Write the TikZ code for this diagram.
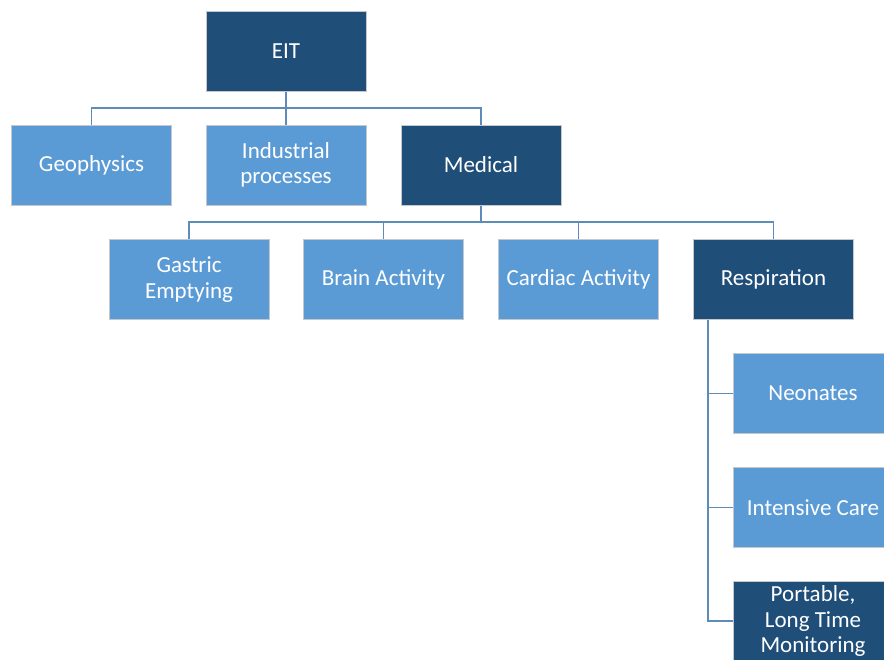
\documentclass[tikz,border=0pt]{standalone}
\usepackage{fontspec}
\setmainfont{Carlito}
\definecolor{darkbox}{HTML}{1F4E79}
\definecolor{lightbox}{HTML}{5B9BD5}
\definecolor{boxedge}{HTML}{C4C8CC}
\definecolor{linkcol}{HTML}{5E8CB8}
\begin{document}
\begin{tikzpicture}[x=1pt,y=-1pt,
  box/.style={draw=boxedge,line width=1pt,minimum width=160pt,minimum height=80pt,
    inner sep=2pt,align=center,text=white,
    font=\fontsize{23}{25.5}\selectfont},
  dark/.style={box,fill=darkbox},
  light/.style={box,fill=lightbox},
  link/.style={draw=linkcol,line width=1.8pt}]
\useasboundingbox (0,0) rectangle (884,659);

% links (drawn first, boxes on top)
\coordinate (b1) at (286,108);
\coordinate (b2) at (481,222);
\coordinate (r0) at (708,320);
\coordinate (rEnd) at (708,621);

% top level
\node[dark] (eit) at (286,51) {EIT};
% second level
\node[light] (geo) at (91.5,165) {Geophysics};
\node[light] (ind) at (286,165) {Industrial\\processes};
\node[dark]  (med) at (481,165) {Medical};
% third level
\node[light] (gas)   at (189,279.5)   {Gastric\\Emptying};
\node[light] (brain) at (383.5,279.5) {Brain Activity};
\node[light] (card)  at (578.5,279.5) {Cardiac Activity};
\node[dark]  (resp)  at (773.5,279.5) {Respiration};
% respiration branches
\node[light] (neo)  at (813,393.5) {Neonates};
\node[light] (int)  at (813,507.5) {Intensive Care};
\node[dark]  (port) at (813,621)   {Portable,\\Long Time\\Monitoring};

\draw[link] (eit.south) -- (b1);
\draw[link] (geo.north) |- (b1) -| (med.north);
\draw[link] (b1) -- (ind.north);

\draw[link] (med.south) -- (b2);
\draw[link] (gas.north) |- (b2) -| (resp.north);
\draw[link] (brain.north |- b2) -- (brain.north);
\draw[link] (card.north |- b2) -- (card.north);

\draw[link] (r0) |- (port.west);
\draw[link] (r0 |- neo.west) -- (neo.west);
\draw[link] (r0 |- int.west) -- (int.west);
\end{tikzpicture}
\end{document}
